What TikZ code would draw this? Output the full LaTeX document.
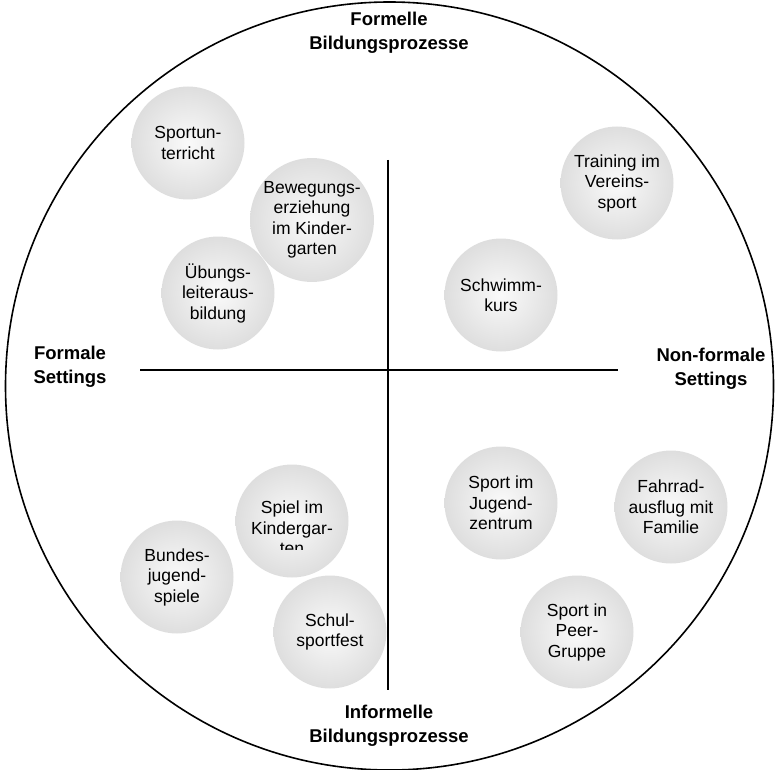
\documentclass[tikz,border=0pt]{standalone}
\usepackage{fontspec}
\setmainfont{Liberation Sans}
\usetikzlibrary{shapes}
\tikzstyle{bubble}=[circle, minimum size=113pt, inner sep=0pt, align=center, inner color=gray!4, outer color=gray!26, font=\fontsize{17.5}{20.5}\selectfont]
\tikzstyle{heading}=[align=center, font=\bfseries\fontsize{18.5}{24}\selectfont]
\tikzstyle{axis}=[line width=1.5pt]

\begin{document}
\begin{tikzpicture}[x=1pt,y=-1pt]
	\useasboundingbox (0,0) rectangle (776,770);
	\draw[line width=1.6pt] (389.5,386) circle[radius=384pt];
	\coordinate (axl) at (140,370);
	\coordinate (axr) at (618,370);
	\coordinate (axt) at (388,160);
	\coordinate (axb) at (388,690);
	\draw[axis] (axl) -- (axr);
	\draw[axis] (axt) -- (axb);
	\node[heading] (formell) at (389,33){Formelle\\Bildungsprozesse};
	\node[heading] (informell) at (389,726){Informelle\\Bildungsprozesse};
	\node[heading] (formal) at (70,367){Formale\\Settings};
	\node[heading] (nonformal) at (711,369){Non-formale\\Settings};
	\node[bubble] (sportunterricht) at (188,143){Sportun-\\terricht};
	\node[bubble] (bewegung) at (312,220){Bewegungs-\\erziehung\\im Kinder-\\garten};
	\node[bubble] (uebungsleiter) at (218,293){Übungs-\\leiteraus-\\bildung};
	\node[bubble] (training) at (617,183){Training im\\Vereins-\\sport};
	\node[bubble] (schwimm) at (501,295){Schwimm-\\kurs};
	\node[bubble] (spiel) at (292,521){};
	\begin{scope}
		\clip (236,460) rectangle (348,549);
		\node[align=center, font=\fontsize{17.5}{20.5}\selectfont] (spieltext) at (292,528){Spiel im\\Kindergar-\\ten};
	\end{scope}
	\node[bubble] (bundes) at (177,577){Bundes-\\jugend-\\spiele};
	\node[bubble] (schulfest) at (330,632){Schul-\\sportfest};
	\node[bubble] (jugendzentrum) at (501,503){Sport im\\Jugend-\\zentrum};
	\node[bubble] (fahrrad) at (671,507){Fahrrad-\\ausflug mit\\Familie};
	\node[bubble] (peer) at (577,632){Sport in\\Peer-\\Gruppe};
\end{tikzpicture}
\end{document}
